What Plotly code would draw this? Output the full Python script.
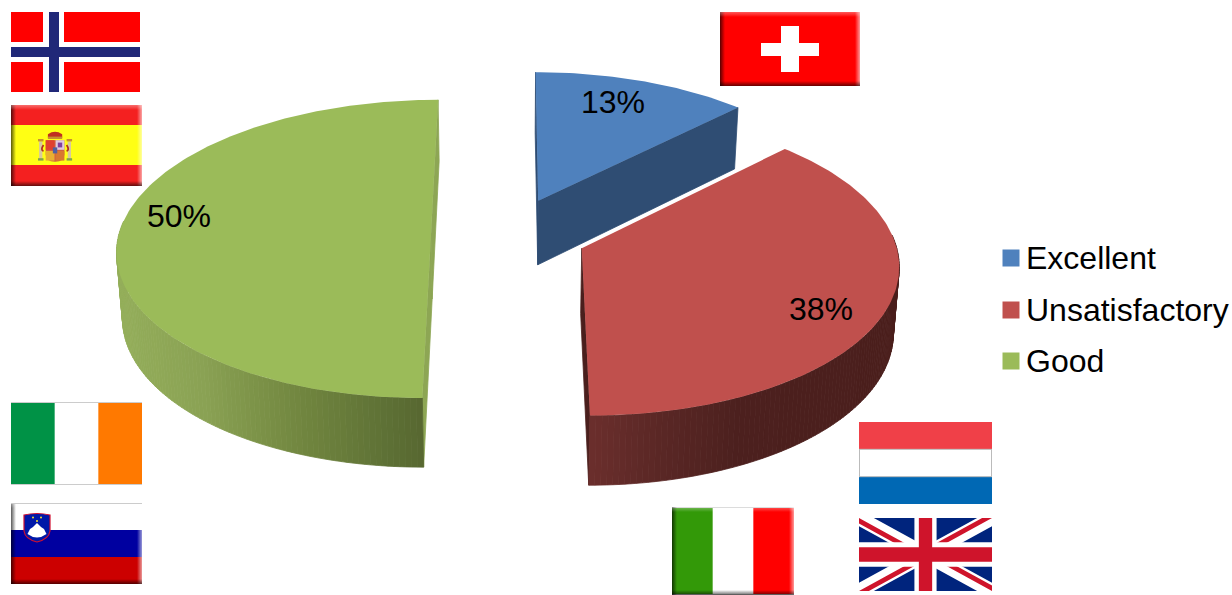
import base64
import math
import plotly.graph_objects as go

# ---- data -------------------------------------------------------------
categories = ["Excellent", "Unsatisfactory", "Good"]
values = [1, 3, 4]                     # number of countries per rating
top_colors = ["#4F81BD", "#C0504D", "#9BBB59"]

# ---- pie projection (perspective tilted disc, exploded slices) ---------
W, H = 1232, 595
X0, Y0 = 509, 234
RX, AY, K = 312, 147.6, 0.10
EXPLODE = 0.25
DEPTH, WALL_SHRINK = 65, 0.985


def project(px, py, bottom=False):
    f = 1 + K * py
    x = X0 + RX * px / f
    y = Y0 - AY * py / f
    if bottom:
        x = X0 + (x - X0) * WALL_SHRINK
        y = y + DEPTH / (1 + 0.6 * K * py)
    return x, y


def lerp_hex(stops, x):
    if x <= stops[0][0]:
        return stops[0][1]
    for (a, ca), (b, cb) in zip(stops, stops[1:]):
        if x <= b:
            t = (x - a) / (b - a)
            ra = [int(ca[i:i + 2], 16) for i in (1, 3, 5)]
            rb = [int(cb[i:i + 2], 16) for i in (1, 3, 5)]
            return "#%02x%02x%02x" % tuple(round(p + (q - p) * t) for p, q in zip(ra, rb))
    return stops[-1][1]


wall_stops = {
    "Excellent": [(0, "#2F4D73"), (1232, "#2F4D73")],
    "Unsatisfactory": [(585, "#6C2F2D"), (660, "#5A2725"), (740, "#4C201E"), (900, "#4A1E1C")],
    "Good": [(116, "#94AE5A"), (200, "#8AA254"), (300, "#71863F"), (380, "#5F7236"), (425, "#576730")],
}
side_colors = {"Excellent": "#2F4D73", "Unsatisfactory": "#4A1F1D", "Good": "#8DA654"}

total = sum(values)
fig = go.Figure()


def poly(xs, ys, color, line=True):
    fig.add_trace(go.Scatter(
        x=xs, y=ys, mode="lines", fill="toself", fillcolor=color,
        line=dict(color=color, width=0.8 if line else 0),
        hoverinfo="skip", showlegend=False))


start = 0.0
spans = []
for name, v in zip(categories, values):
    sweep = 360.0 * v / total
    spans.append((name, start, start + sweep))
    start += sweep

for (name, a0, a1), color in zip(spans, top_colors):
    mid = math.radians((a0 + a1) / 2)
    ox, oy = EXPLODE * math.sin(mid), EXPLODE * math.cos(mid)
    n = max(8, int(a1 - a0))
    angs = [math.radians(a0 + (a1 - a0) * i / n) for i in range(n + 1)]
    rim = [(ox + math.sin(t), oy + math.cos(t)) for t in angs]
    apex = (ox, oy)

    # radial faces (the red slice's back face is hidden)
    faces = (rim[-1],) if name == "Unsatisfactory" else (rim[0], rim[-1])
    for edge in faces:
        pts = [project(*apex), project(*edge), project(*edge, bottom=True), project(*apex, bottom=True)]
        poly([p[0] for p in pts] + [pts[0][0]], [p[1] for p in pts] + [pts[0][1]], side_colors[name])

    # outer wall, front-facing part only, shaded along the screen
    if name != "Excellent":
        for t0, t1, p, q in zip(angs, angs[1:], rim, rim[1:]):
            if math.cos((t0 + t1) / 2) > 0.08:
                continue
            a, b = project(*p), project(*q)
            c, d = project(*q, bottom=True), project(*p, bottom=True)
            shade = lerp_hex(wall_stops[name], (a[0] + b[0]) / 2)
            poly([a[0], b[0], c[0], d[0], a[0]], [a[1], b[1], c[1], d[1], a[1]], shade)

    # top face
    pts = [project(*apex)] + [project(*r) for r in rim] + [project(*apex)]
    poly([p[0] for p in pts], [p[1] for p in pts], color, line=False)

# ---- percentage labels ---------------------------------------------------
label_pos = {"Excellent": (613, 105), "Unsatisfactory": (821, 312), "Good": (179, 219)}
FONT = "Liberation Sans, Arial, sans-serif"
FONT_SIZE = 32
for name, v in zip(categories, values):
    pct = int(100 * v / total + 0.5)
    lx, ly = label_pos[name]
    fig.add_trace(go.Scatter(
        x=[lx], y=[ly], mode="text", text=[f"{pct}%"], textposition="middle center",
        textfont=dict(family=FONT, size=FONT_SIZE, color="#000000"),
        hoverinfo="skip", showlegend=False))

# ---- legend -------------------------------------------------------------
legend_x, legend_text_x = 1011, 1027
legend_y = [258, 310, 361]
for name, color, ly in zip(categories, top_colors, legend_y):
    fig.add_trace(go.Scatter(
        x=[legend_x], y=[ly], mode="markers",
        marker=dict(symbol="square", size=17, color=color, line=dict(width=0)),
        hoverinfo="skip", showlegend=False))
    fig.add_annotation(x=legend_text_x, y=ly, xref="x", yref="y", text=name, showarrow=False,
                       xanchor="left", yanchor="middle", xshift=-3,
                       font=dict(family=FONT, size=FONT_SIZE, color="#000000"))


# ---- flags (inline SVG pictures) ---------------------------------------
def bevel(w, h):
    return f'''<defs>
<linearGradient id="l" x1="0" x2="1" y1="0" y2="0"><stop offset="0" stop-color="#000" stop-opacity=".65"/><stop offset="1" stop-color="#000" stop-opacity="0"/></linearGradient>
<linearGradient id="r" x1="1" x2="0" y1="0" y2="0"><stop offset="0" stop-color="#fff" stop-opacity=".6"/><stop offset="1" stop-color="#fff" stop-opacity="0"/></linearGradient>
<linearGradient id="t" x1="0" x2="0" y1="0" y2="1"><stop offset="0" stop-color="#fff" stop-opacity=".35"/><stop offset="1" stop-color="#fff" stop-opacity="0"/></linearGradient>
<linearGradient id="b" x1="0" x2="0" y1="1" y2="0"><stop offset="0" stop-color="#000" stop-opacity=".6"/><stop offset="1" stop-color="#000" stop-opacity="0"/></linearGradient>
</defs>
<rect x="0" y="0" width="5" height="{h}" fill="url(#l)"/>
<rect x="{w-5}" y="0" width="5" height="{h}" fill="url(#r)"/>
<rect x="0" y="0" width="{w}" height="5" fill="url(#t)"/>
<rect x="0" y="{h-5}" width="{w}" height="5" fill="url(#b)"/>'''


def svg_uri(w, h, body):
    s = f'<svg xmlns="http://www.w3.org/2000/svg" width="{w}" height="{h}" viewBox="0 0 {w} {h}">{body}</svg>'
    return "data:image/svg+xml;base64," + base64.b64encode(s.encode()).decode()


def rect(x, y, w, h, c):
    return f'<rect x="{x}" y="{y}" width="{w}" height="{h}" fill="{c}"/>'


def edge_lines(w, h):
    return (f'<path d="M0 .5 H{w} M0 {h-.5} H{w}" stroke="#cccccc" stroke-width="1"/>')


def norway(w, h):
    return (rect(0, 0, w, h, "#FF0000") + rect(32, 0, 21, h, "#FFFFFF") + rect(0, 30, w, 20, "#FFFFFF")
            + rect(38, 0, 10, h, "#202878") + rect(0, 35, w, 10, "#202878"))


def spain(w, h):
    arms = ('<g transform="translate(27,28) scale(1.1,1.2)">'
            + rect(1, 7, 3, 14, "#D8C8A0") + rect(27, 7, 3, 14, "#D8C8A0")
            + rect(0, 5, 5, 2, "#C89030") + rect(26, 5, 5, 2, "#C89030")
            + '<path d="M5 10 Q2 14 5 15 M26 10 Q29 14 26 15" stroke="#B03020" stroke-width="1.6" fill="none"/>'
            + rect(0, 21, 5, 2, "#80A050") + rect(26, 21, 5, 2, "#80A050")
            + '<path d="M9 1 Q15.5 -3 22 1 L22 4 L9 4 Z" fill="#C03020"/>'
            + '<path d="M9 3 L22 3 L22 5 L9 5 Z" fill="#C89030"/>'
            + '<path d="M7 6 H24 V18 Q24 24 15.5 24 Q7 24 7 18 Z" fill="#D06040"/>'
            + rect(7, 6, 8, 8, "#E04030") + rect(16, 6, 8, 8, "#E0C8E0")
            + rect(7, 15, 8, 8, "#E8B030") + rect(16, 15, 8, 8, "#D87830")
            + rect(18, 8, 4, 4, "#8040A0") + rect(13.5, 12, 4, 5, "#5060A0")
            + '</g>')
    return (rect(0, 0, w, h, "#F42020") + rect(0, 20, w, 40, "#FFFF14") + arms + bevel(w, h))


def ireland(w, h):
    t = w / 3
    return (rect(0, 0, w, h, "#FFFFFF") + rect(0, 0, t, h, "#009246") + rect(2 * t, 0, t, h, "#FF7900")
            + edge_lines(w, h))


def slovenia(w, h):
    t = h / 3
    arms = ('<path d="M13 12 Q26 9 39 12 L39 28 Q38 36 26 39 Q14 36 13 28 Z" fill="#0018A8" stroke="#D01030" stroke-width="1.2"/>'
            '<path d="M16.5 31 L19 26 L22 24 L26 20 L30 24 L33 26 L35.5 31 Q26 38 16.5 31 Z" fill="#FFFFFF"/>'
            '<circle cx="22" cy="14.5" r="1" fill="#F8E030"/><circle cx="30" cy="14.5" r="1" fill="#F8E030"/><circle cx="26" cy="18" r="1" fill="#F8E030"/>')
    return (rect(0, 0, w, t, "#FFFFFF") + rect(0, t, w, t, "#0000A0") + rect(0, 2 * t, w, t, "#CC0000")
            + arms + bevel(w, h) + f'<path d="M0 .5 H{w}" stroke="#ccc"/>')


def swiss(w, h):
    return (rect(0, 0, w, h, "#FF0000")
            + rect(61, 14, 18, 46, "#FFFFFF") + rect(41, 31, 58, 13, "#FFFFFF") + bevel(w, h))


def italy(w, h):
    t = w / 3
    return (rect(0, 0, w, h, "#FFFFFF") + rect(0, 0, t, h, "#339908") + rect(2 * t, 0, t, h, "#FF0000")
            + edge_lines(w, h) + bevel(w, h))


def netherlands(w, h):
    t = h / 3
    return (rect(0, 0, w, t, "#F04048") + rect(0, t, w, t, "#FFFFFF") + rect(0, 2 * t, w, t, "#0068B4")
            + f'<rect x=".5" y="{t}" width="{w-1}" height="{t}" fill="none" stroke="#bbb"/>')


def uk(w, h):
    red, blue = "#CF142B", "#00247D"
    return (f'<svg x="0" y="0" width="{w}" height="{h}" viewBox="0 0 60 30" preserveAspectRatio="none">'
            + '<clipPath id="tri"><path d="M30,15 h30 v15 z v15 h-30 z h-30 v-15 z v-15 h30 z"/></clipPath>'
            + rect(0, 0, 60, 30, blue)
            + '<path d="M0 0 L60 30 M60 0 L0 30" stroke="#fff" stroke-width="6"/>'
            + f'<path d="M0 0 L60 30 M60 0 L0 30" clip-path="url(#tri)" stroke="{red}" stroke-width="4"/>'
            + '<path d="M30 0 V30 M0 15 H60" stroke="#fff" stroke-width="10"/>'
            + f'<path d="M30 0 V30 M0 15 H60" stroke="{red}" stroke-width="6"/></svg>')


flags = [
    (norway, 11, 12, 129, 80),
    (spain, 11, 105, 131, 81),
    (ireland, 11, 402, 131, 83),
    (slovenia, 11, 503, 131, 81),
    (swiss, 720, 12, 140, 74),
    (italy, 672, 507, 122, 88),
    (netherlands, 859, 422, 133, 82),
    (uk, 859, 518, 133, 73),
]
images = []
for fn, x, y, w, h in flags:
    images.append(dict(source=svg_uri(w, h, fn(w, h)), xref="x", yref="y", x=x, y=y, sizex=w, sizey=h,
                       sizing="stretch", xanchor="left", yanchor="top", layer="above"))

fig.update_layout(
    width=W, height=H,
    margin=dict(l=0, r=0, t=0, b=0),
    paper_bgcolor="#FFFFFF", plot_bgcolor="#FFFFFF",
    showlegend=False,
    images=images,
    xaxis=dict(range=[0, W], visible=False, fixedrange=True),
    yaxis=dict(range=[H, 0], visible=False, fixedrange=True),
)
fig.write_html("out.html", config={"displayModeBar": False},
               post_script="document.body.style.margin='0';document.body.style.overflow='hidden';")
